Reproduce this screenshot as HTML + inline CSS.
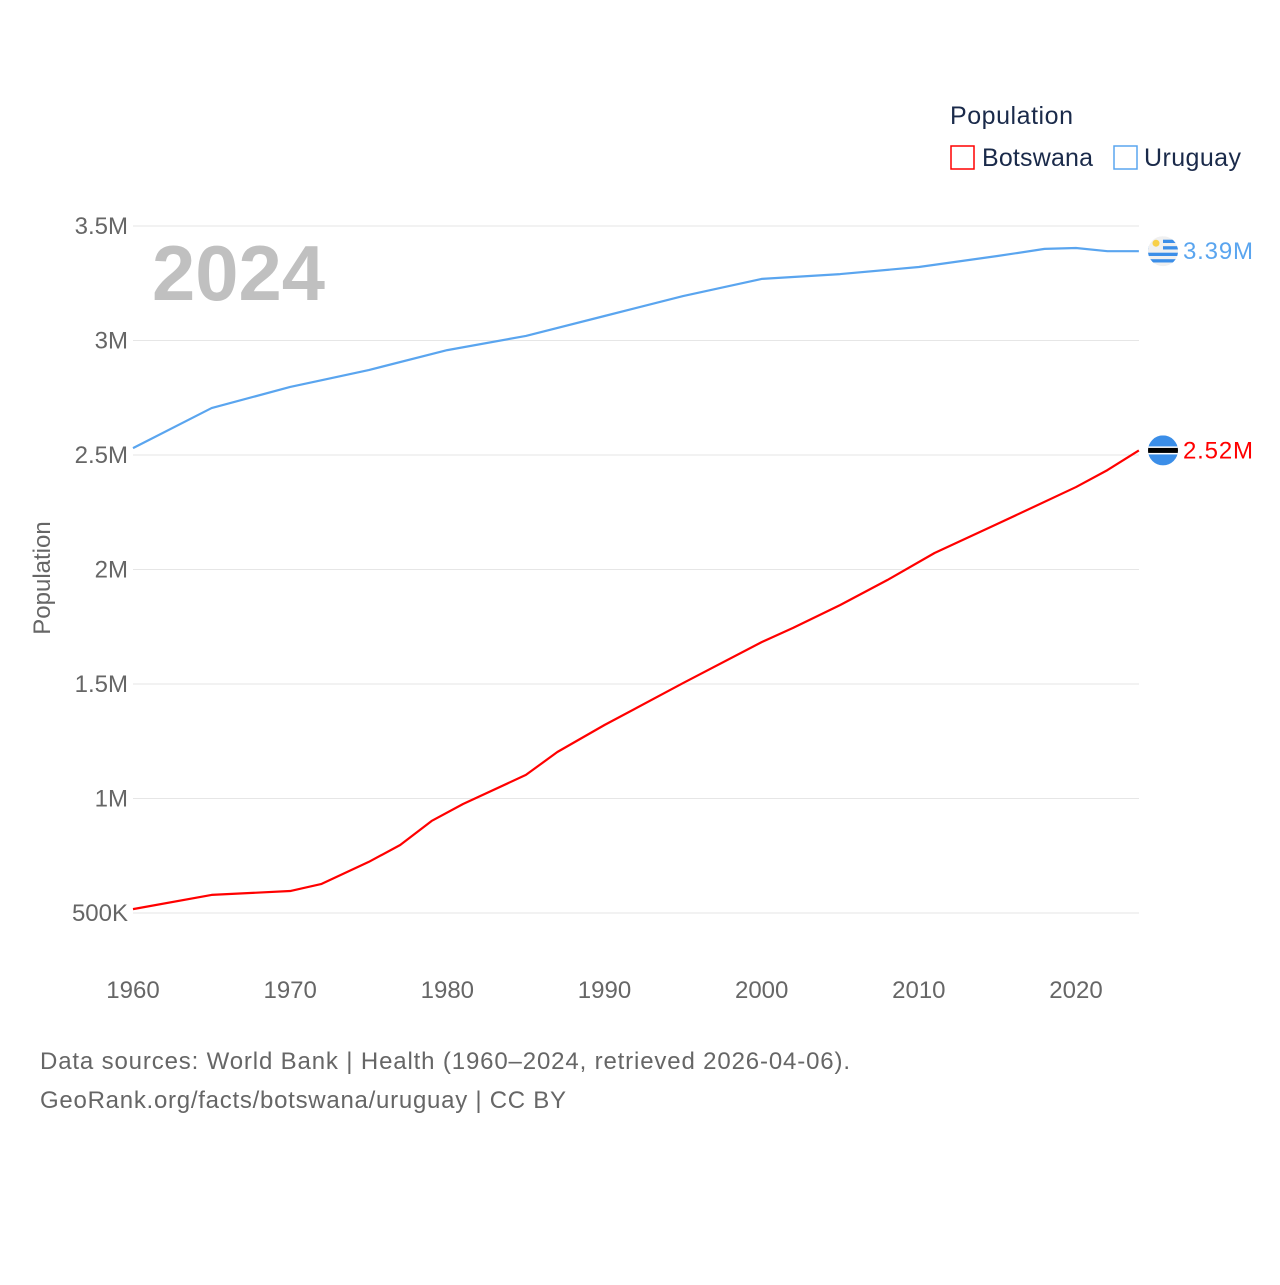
<!DOCTYPE html>
<html><head><meta charset="utf-8"><style>
body{margin:0;background:#fff;width:1280px;height:1280px;overflow:hidden;font-family:"Liberation Sans",sans-serif}
</style></head><body>
<svg id="chart" width="1280" height="1280" viewBox="0 0 1280 1280">
<defs>
<clipPath id="cb"><circle cx="1163" cy="450" r="15"/></clipPath>
<clipPath id="cu"><circle cx="1163" cy="251" r="15"/></clipPath>
</defs>
<g id="grid"></g>
<text x="152" y="300" font-size="78" font-weight="bold" fill="#c0c0c0" textLength="173" lengthAdjust="spacingAndGlyphs">2024</text>
<g id="series"></g>
<text transform="translate(50,578) rotate(-90)" text-anchor="middle" font-size="24" fill="#666">Population</text>
<g>
<text x="950" y="124" font-size="25" fill="#1a2a4a" textLength="123">Population</text>
<g><rect x="951" y="146" width="23" height="23" fill="none" stroke="#ff0000" stroke-width="1.5"/><text x="982" y="166" font-size="25" fill="#1a2a4a" textLength="111">Botswana</text></g>
<g><rect x="1114" y="146" width="23" height="23" fill="none" stroke="#5aa5ef" stroke-width="1.5"/><text x="1144" y="166" font-size="25" fill="#1a2a4a" textLength="97">Uruguay</text></g>
</g>
<text x="40" y="1069" font-size="24" fill="#666" textLength="810">Data sources: World Bank | Health (1960–2024, retrieved 2026-04-06).</text>
<text x="40" y="1108" font-size="24" fill="#666" textLength="526">GeoRank.org/facts/botswana/uruguay | CC BY</text>
</svg>
<script>
const yTicks=[0.5,1,1.5,2,2.5,3,3.5];
const yTickLabels=["500K","1M","1.5M","2M","2.5M","3M","3.5M"];
const xTicks=[1960,1970,1980,1990,2000,2010,2020];
const botYears=[1960,1965,1970,1972,1975,1977,1979,1981,1985,1987,1990,1995,2000,2002,2005,2008,2011,2015,2020,2022,2024];
const botVals=[0.517,0.579,0.596,0.627,0.723,0.797,0.902,0.976,1.103,1.203,1.321,1.504,1.683,1.745,1.845,1.954,2.072,2.199,2.36,2.434,2.52];
const uryYears=[1960,1965,1970,1975,1980,1985,1990,1995,2000,2005,2010,2015,2018,2020,2022,2024];
const uryVals=[2.53,2.705,2.797,2.871,2.958,3.02,3.107,3.194,3.269,3.29,3.321,3.369,3.4,3.404,3.39,3.39];
const NS='http://www.w3.org/2000/svg';
const X=y=>133+(y-1960)*(1076-133)/60;
const Y=v=>913-(v-0.5)*229;
function mk(t,a,p){const e=document.createElementNS(NS,t);for(const k in a)e.setAttribute(k,a[k]);p.appendChild(e);return e;}
const grid=document.getElementById('grid'),ser=document.getElementById('series');
yTicks.forEach((v,i)=>{
 const l=mk('line',{x1:133,x2:1139,y1:Y(v),y2:Y(v),stroke:'#e6e6e6','stroke-width':1},grid);
 
 
 const t=mk('text',{x:128,y:Y(v)+8,'text-anchor':'end','font-size':24,fill:'#666'},grid);
 t.textContent=yTickLabels[i];
 
 
});
xTicks.forEach(v=>{
 const t=mk('text',{x:X(v),y:998,'text-anchor':'middle','font-size':24,fill:'#666'},grid);
 t.textContent=v;
 
 
});
function line(years,vals,color,name){
 const p=mk('path',{d:years.map((y,i)=>(i?'L':'M')+X(y)+','+Y(vals[i])).join(''),fill:'none',stroke:color,'stroke-width':2.2,'stroke-linejoin':'round'},ser);
 
 
 const ly=Y(vals[vals.length-1]);
 const t=mk('text',{x:1183,y:ly+8,'font-size':24,fill:color,textLength:70},ser);
 t.textContent=vals[vals.length-1].toFixed(2)+'M';
 
 
 return ly;
}
const by=line(botYears,botVals,'#ff0000','botswana');
const uy=line(uryYears,uryVals,'#5aa5ef','uruguay');
document.querySelector('#cb circle').setAttribute('cy',by);
document.querySelector('#cu circle').setAttribute('cy',uy);
let g=mk('g',{'clip-path':'url(#cb)'},ser);


mk('rect',{x:1148,y:by-15,width:30,height:30,fill:'#3b8ee8'},g);
mk('rect',{x:1148,y:by-4,width:30,height:8,fill:'#fff'},g);
mk('rect',{x:1148,y:by-2.5,width:30,height:5,fill:'#000'},g);
g=mk('g',{'clip-path':'url(#cu)'},ser);


mk('rect',{x:1148,y:uy-15,width:30,height:30,fill:'#f0f0f0'},g);
[-10,-3.5,3,9.5].forEach(d=>mk('rect',{x:d<-5?1163:1148,y:uy+d-1.5,width:30,height:3.3,fill:'#3b8ee8'},g));
mk('rect',{x:1148,y:uy-15,width:15,height:14,fill:'#f0f0f0'},g);
mk('circle',{cx:1156,cy:uy-8,r:3.5,fill:'#f8d048'},g);
</script>
</body></html>
